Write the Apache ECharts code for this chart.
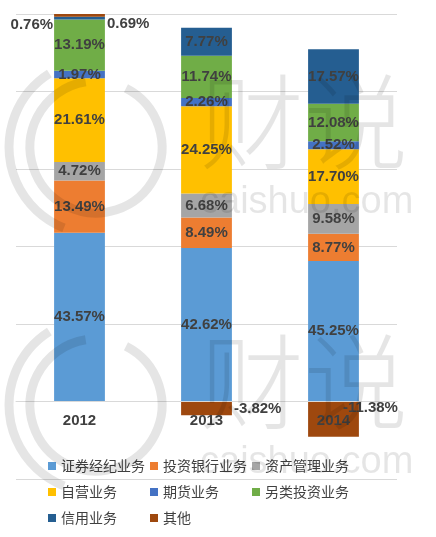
<!DOCTYPE html>
<html>
<head>
<meta charset="utf-8">
<script src="https://cdn.jsdelivr.net/npm/echarts@6/dist/echarts.min.js"></script>
<style>html,body{margin:0;padding:0;background:#fff;}#c{width:436px;height:537px;}</style>
</head>
<body>
<div id="c"></div>
<script>
const categories = ['2012', '2013', '2014'];
const seriesNames = ['证券经纪业务', '投资银行业务', '资产管理业务', '自营业务', '期货业务', '另类投资业务', '信用业务', '其他'];
const brokerage   = [43.57, 42.62, 45.25];
const investBank  = [13.49, 8.49, 8.77];
const assetMgmt   = [4.72, 6.68, 9.58];
const proprietary = [21.61, 24.25, 17.70];
const futures     = [1.97, 2.26, 2.52];
const altInvest   = [13.19, 11.74, 12.08];
const credit      = [0.76, 7.77, 17.57];
const other       = [0.69, -3.82, -11.38];
const yTicks = [-20, 0, 20, 40, 60, 80, 100];

const seriesValues = [brokerage, investBank, assetMgmt, proprietary, futures, altInvest, credit, other];
const colors = ['#5B9BD5', '#ED7D31', '#A5A5A5', '#FFC000', '#4472C4', '#70AD47', '#255E91', '#9E480E'];

// Excel-style 100% stacked: each value divided by sum of absolute values in its category
const sumAbs = categories.map((c, i) => seriesValues.reduce((s, arr) => s + Math.abs(arr[i]), 0));

const labelOverrides = {
  '信用业务': { 0: { position: 'left', distance: 1, offset: [0, 7] } },
  '其他': {
    0: { position: 'right', distance: 2, offset: [0, 9] },
    1: { position: 'right', distance: 2 },
    2: { position: 'right', distance: 2, offset: [-18, -11] }
  }
};

const labelFont = { fontFamily: 'Liberation Sans', fontWeight: 'bold', fontSize: 15, color: '#404040' };

const series = seriesNames.map((name, si) => ({
  name: name,
  type: 'bar',
  stack: 'total',
  barWidth: '40%',
  itemStyle: { color: colors[si] },
  label: Object.assign({
    show: true,
    position: 'inside',
    formatter: p => p.data.raw.toFixed(2) + '%'
  }, labelFont),
  data: seriesValues[si].map((v, i) => {
    const item = { value: v / sumAbs[i] * 100, raw: v };
    if (labelOverrides[name] && labelOverrides[name][i]) item.label = labelOverrides[name][i];
    return item;
  })
}));

const wm = 'rgba(0,0,0,0.10)';
function logo(cx, cy) {
  return [
    { type: 'arc', z: 100, silent: true, shape: { cx: cx, cy: cy, r: 66, startAngle: -Math.PI * 0.35, endAngle: Math.PI * 1.45 }, style: { stroke: wm, fill: null, lineWidth: 9 } },
    { type: 'arc', z: 100, silent: true, shape: { cx: cx, cy: cy, r: 87, startAngle: Math.PI * 0.62, endAngle: Math.PI * 1.32 }, style: { stroke: wm, fill: null, lineWidth: 9 } }
  ];
}
function mark(y) {
  return [
    { type: 'text', z: 100, silent: true, left: 200, top: y, style: { text: '财说', fill: wm, font: '300 104px "Noto Sans CJK SC"' } },
    { type: 'text', z: 100, silent: true, left: 200, top: y + 114, style: { text: 'caishuo.com', fill: wm, font: '38px "Liberation Sans"' } }
  ];
}

const legendBase = {
  orient: 'vertical', top: 454, itemGap: 12, itemWidth: 8, itemHeight: 8, icon: 'rect',
  textStyle: { fontSize: 14, color: '#404040', fontFamily: 'Noto Sans CJK SC' }
};

const chart = echarts.init(document.getElementById('c'));
chart.setOption({
  animation: false,
  backgroundColor: '#fff',
  color: colors,
  grid: { left: 16, right: 39, top: 14, bottom: 58, containLabel: false },
  legend: [
    Object.assign({ left: 43, data: [seriesNames[0], seriesNames[3], seriesNames[6]] }, legendBase),
    Object.assign({ left: 145, data: [seriesNames[1], seriesNames[4], seriesNames[7]] }, legendBase),
    Object.assign({ left: 247, data: [seriesNames[2], seriesNames[5]] }, legendBase)
  ],
  xAxis: {
    type: 'category',
    data: categories,
    z: 10,
    offset: -77.5,
    axisLine: { show: true, onZero: false, lineStyle: { color: '#d9d9d9' } },
    axisTick: { show: false },
    axisLabel: { margin: 12, fontFamily: 'Liberation Sans', fontWeight: 'bold', fontSize: 15, color: '#404040' }
  },
  yAxis: {
    type: 'value',
    min: yTicks[0],
    max: yTicks[yTicks.length - 1],
    interval: 20,
    axisLabel: { show: false },
    axisLine: { show: false },
    axisTick: { show: false },
    splitLine: { lineStyle: { color: '#d9d9d9' } }
  },
  series: series,
  graphic: [].concat(logo(96, 147), logo(96, 405), mark(70), mark(330))
});
</script>
</body>
</html>
